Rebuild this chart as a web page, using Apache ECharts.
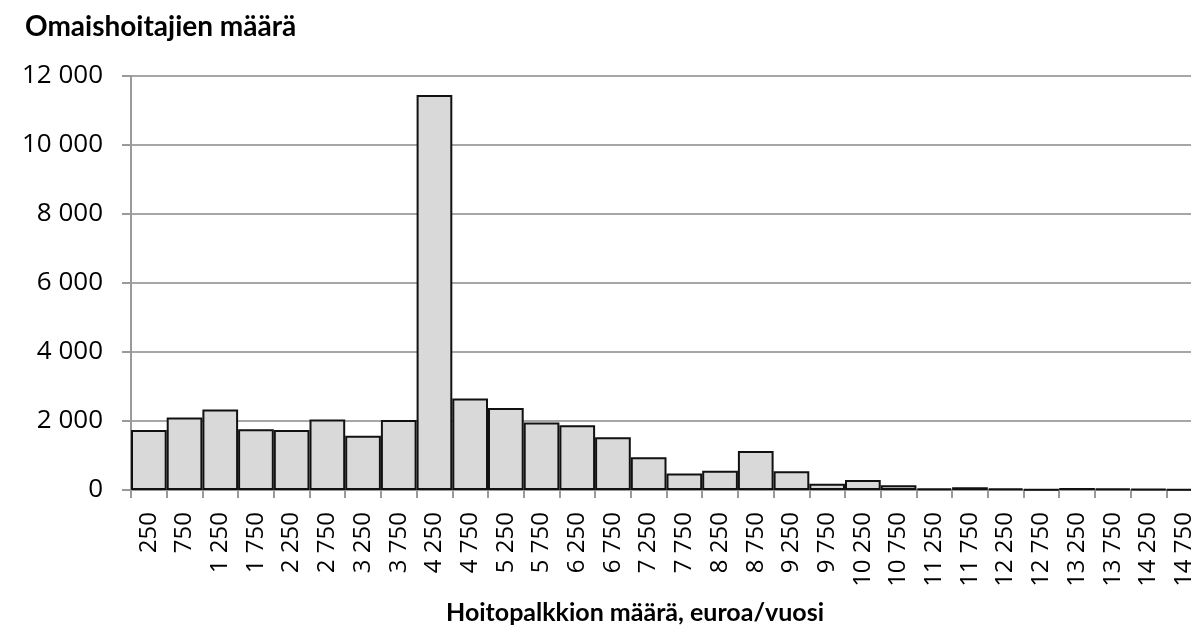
<!DOCTYPE html>
<html>
<head>
<meta charset="utf-8">
<script src="https://cdn.jsdelivr.net/npm/echarts@6/dist/echarts.min.js"></script>
<style>
  html, body { margin: 0; padding: 0; background: #fff; overflow: hidden; }
  #chart { width: 1202px; height: 633px; }
</style>
</head>
<body>
<div id="chart"></div>
<script>
// Hoitopalkkion määrä (euroa/vuosi), luokkien keskikohdat
var categories = [250, 750, 1250, 1750, 2250, 2750, 3250, 3750, 4250, 4750,
    5250, 5750, 6250, 6750, 7250, 7750, 8250, 8750, 9250, 9750,
    10250, 10750, 11250, 11750, 12250, 12750, 13250, 13750, 14250, 14750];
// Omaishoitajien määrä
var counts = [1740, 2100, 2330, 1760, 1740, 2040, 1570, 2030, 11450, 2650,
    2380, 1960, 1880, 1530, 950, 480, 560, 1130, 540, 180,
    290, 140, 50, 80, 50, 20, 60, 40, 30, 20];
var yTicks = [0, 2000, 4000, 6000, 8000, 10000, 12000];

function fmt(v) {
    return String(v).replace(/\B(?=(\d{3})+(?!\d))/g, ' ');
}

var font = 'Open Sans';
// kaavio on hieman ikkunaa leveämpi, jotta oikea reuna leikkautuu kuten alkuperäisessä
var myChart = echarts.init(document.getElementById('chart'));

var option = {
    animation: false,
    backgroundColor: '#fff',
    title: [
        {
            text: 'Omaishoitajien määrä',
            left: 20,
            top: 8,
            textStyle: { fontFamily: 'Lato', fontWeight: 'bold', fontSize: 28, color: '#000' }
        },
        {
            text: 'Hoitopalkkion määrä, euroa/vuosi',
            left: 441,
            top: 595,
            textStyle: { fontFamily: 'Lato', fontWeight: 'bold', fontSize: 25, color: '#000' }
        }
    ],
    grid: { left: 131, right: 0, top: 76, bottom: 143, containLabel: false },
    xAxis: {
        type: 'category',
        data: categories.map(fmt),
        axisLine: { lineStyle: { color: '#9a9a9a', width: 2 } },
        axisTick: { show: true, length: 8, lineStyle: { color: '#9a9a9a', width: 2 } },
        axisLabel: {
            interval: 0,
            rotate: 90,
            margin: 22,
            fontFamily: font,
            fontSize: 24,
            color: '#000'
        }
    },
    yAxis: {
        type: 'value',
        min: 0,
        max: yTicks[yTicks.length - 1],
        interval: 2000,
        axisLine: { show: true, lineStyle: { color: '#9a9a9a', width: 2 } },
        axisTick: { show: true, length: 9, lineStyle: { color: '#9a9a9a', width: 2 } },
        splitLine: { show: true, lineStyle: { color: '#a6a6a6', width: 2 } },
        axisLabel: {
            margin: 28,
            fontFamily: font,
            fontSize: 26,
            color: '#000',
            formatter: fmt
        }
    },
    series: [
        {
            type: 'bar',
            data: counts,
            barCategoryGap: '0%',
            itemStyle: { color: '#d9d9d9', borderColor: '#111', borderWidth: 2 }
        }
    ]
};

myChart.setOption(option);
</script>
</body>
</html>
